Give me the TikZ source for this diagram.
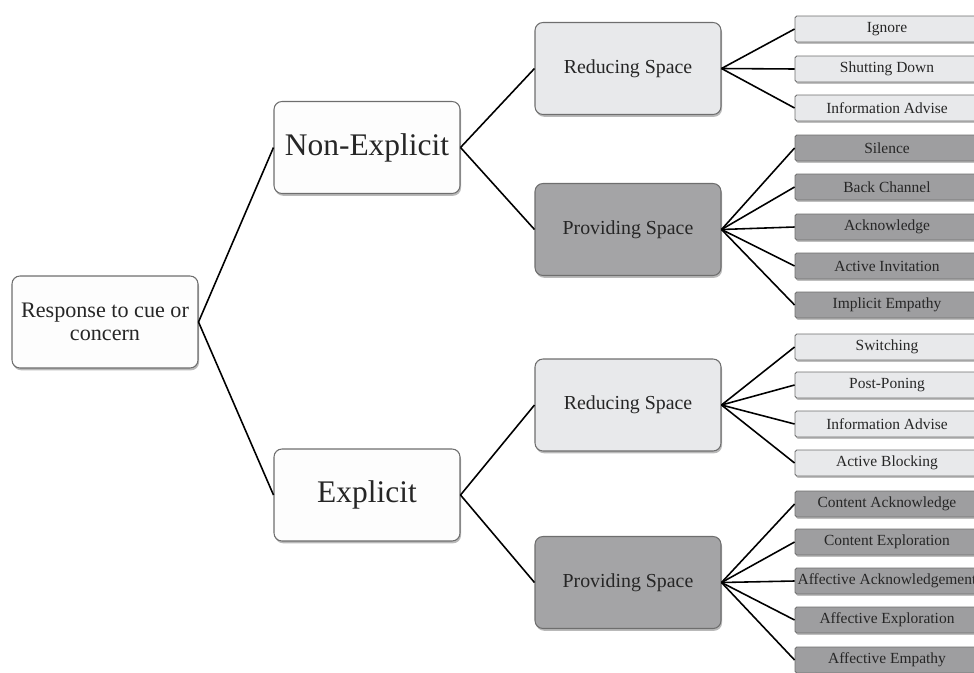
\documentclass[tikz,border=0pt]{standalone}
\usepackage{fontspec}
\setmainfont{Liberation Serif}
\usetikzlibrary{shadows}
\definecolor{lightbox}{HTML}{E8E9EB}
\definecolor{darkbox}{HTML}{A4A4A6}
\definecolor{darkleaf}{HTML}{9E9EA0}
\definecolor{boxline}{HTML}{6E6E6E}
\definecolor{whitebox}{HTML}{FDFDFD}

\tikzset{
  bigbox/.style={draw=boxline, line width=0.6pt, rounded corners=4.5pt,
    minimum width=3.72cm, minimum height=1.84cm, align=center, text=black!85,
    drop shadow={shadow xshift=0.6pt, shadow yshift=-1.3pt, fill=black!50, opacity=0.55}},
  leafbox/.style={draw=boxline, line width=0.5pt, rounded corners=1pt,
    minimum width=3.68cm, minimum height=0.52cm, inner sep=0pt, text=black!85,
    font=\fontsize{8.8}{10}\selectfont,
    drop shadow={shadow xshift=0.5pt, shadow yshift=-1pt, fill=black!50, opacity=0.5}},
  branch/.style={line width=0.9pt}
}

\begin{document}
\begin{tikzpicture}[x=0.02cm, y=-0.02cm]
  \clip (0,0) rectangle (974,673);
  % main boxes
  \node[bigbox, fill=whitebox, font=\fontsize{12.6}{13.4}\selectfont] (root) at (105,322) {Response to cue or\\concern};
  \node[bigbox, fill=whitebox, font=\fontsize{17.9}{20}\selectfont] (nonexp) at (367,147.5) {Non-Explicit};
  \node[bigbox, fill=whitebox, font=\fontsize{17.9}{20}\selectfont] (exp) at (367,495) {Explicit};
  \node[bigbox, fill=lightbox, font=\fontsize{11.3}{13}\selectfont] (redA) at (628,68.5) {Reducing Space};
  \node[bigbox, fill=darkbox, font=\fontsize{11.3}{13}\selectfont] (provA) at (628,229.5) {Providing Space};
  \node[bigbox, fill=lightbox, font=\fontsize{11.3}{13}\selectfont] (redB) at (628,405) {Reducing Space};
  \node[bigbox, fill=darkbox, font=\fontsize{11.3}{13}\selectfont] (provB) at (628,582.5) {Providing Space};

  % leaves
  \node[leafbox, fill=lightbox] (ignore) at (887,29) {Ignore};
  \node[leafbox, fill=lightbox] (shut) at (887,69) {Shutting Down};
  \node[leafbox, fill=lightbox] (infoA) at (887,108) {Information Advise};
  \node[leafbox, fill=darkleaf] (silence) at (887,148) {Silence};
  \node[leafbox, fill=darkleaf] (back) at (887,187) {Back Channel};
  \node[leafbox, fill=darkleaf] (ackn) at (887,227) {Acknowledge};
  \node[leafbox, fill=darkleaf] (invite) at (887,266) {Active Invitation};
  \node[leafbox, fill=darkleaf] (impl) at (887,305) {Implicit Empathy};
  \node[leafbox, fill=lightbox] (switch) at (887,347) {Switching};
  \node[leafbox, fill=lightbox] (postpone) at (887,385) {Post-Poning};
  \node[leafbox, fill=lightbox] (infoB) at (887,424) {Information Advise};
  \node[leafbox, fill=lightbox] (block) at (887,463) {Active Blocking};
  \node[leafbox, fill=darkleaf] (contack) at (887,504) {Content Acknowledge};
  \node[leafbox, fill=darkleaf] (contexp) at (887,542) {Content Exploration};
  \node[leafbox, fill=darkleaf] (affack) at (887,581) {Affective Acknowledgement};
  \node[leafbox, fill=darkleaf] (affexp) at (887,620) {Affective Exploration};
  \node[leafbox, fill=darkleaf] (affemp) at (887,660) {Affective Empathy};

  % branches
  \draw[branch] (root.east) -- (nonexp.west);
  \draw[branch] (root.east) -- (exp.west);
  \draw[branch] (nonexp.east) -- (redA.west);
  \draw[branch] (nonexp.east) -- (provA.west);
  \draw[branch] (exp.east) -- (redB.west);
  \draw[branch] (exp.east) -- (provB.west);
  \draw[branch] (redA.east) -- (ignore.west);
  \draw[branch] (redA.east) -- (shut.west);
  \draw[branch] (redA.east) -- (infoA.west);
  \draw[branch] (provA.east) -- (silence.west);
  \draw[branch] (provA.east) -- (back.west);
  \draw[branch] (provA.east) -- (ackn.west);
  \draw[branch] (provA.east) -- (invite.west);
  \draw[branch] (provA.east) -- (impl.west);
  \draw[branch] (redB.east) -- (switch.west);
  \draw[branch] (redB.east) -- (postpone.west);
  \draw[branch] (redB.east) -- (infoB.west);
  \draw[branch] (redB.east) -- (block.west);
  \draw[branch] (provB.east) -- (contack.west);
  \draw[branch] (provB.east) -- (contexp.west);
  \draw[branch] (provB.east) -- (affack.west);
  \draw[branch] (provB.east) -- (affexp.west);
  \draw[branch] (provB.east) -- (affemp.west);
\end{tikzpicture}
\end{document}
